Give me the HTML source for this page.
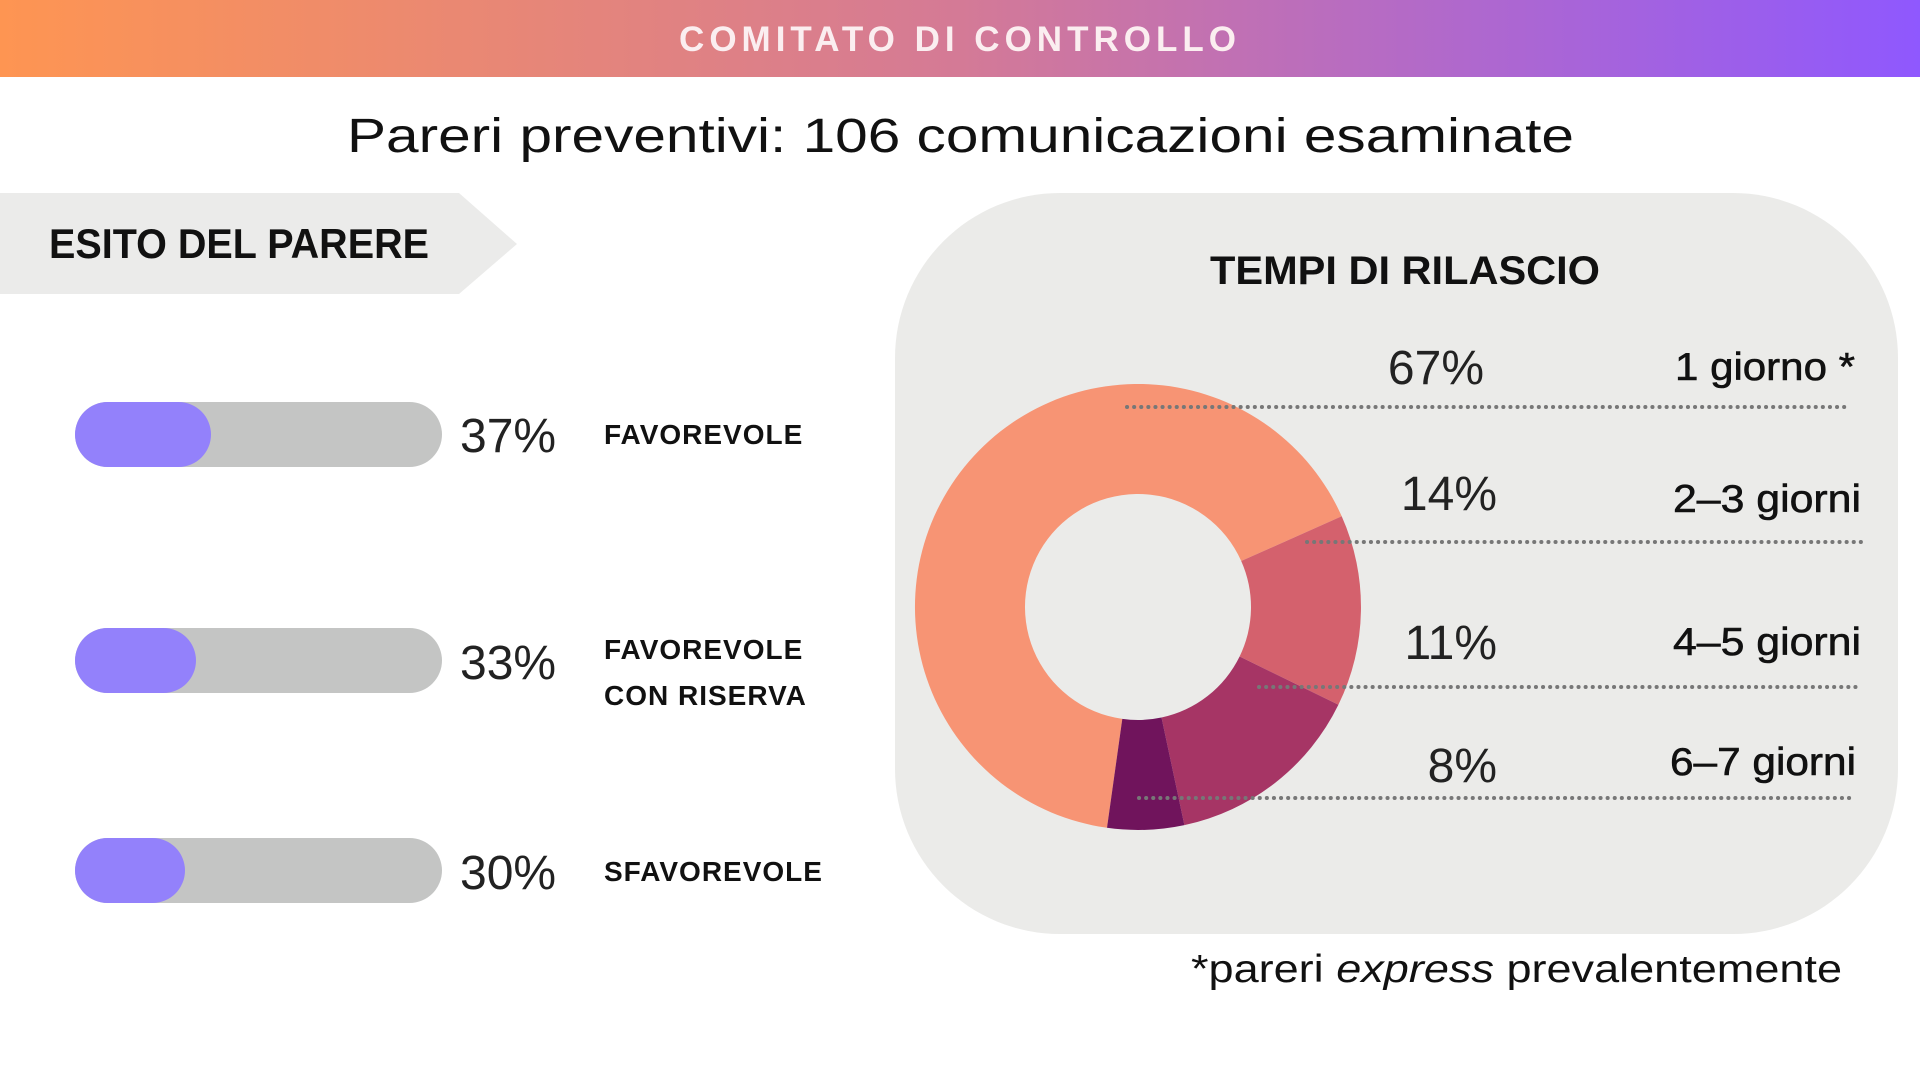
<!DOCTYPE html>
<html><head><meta charset="utf-8"><style>
html,body{margin:0;padding:0;background:#fff;width:1920px;height:1080px;overflow:hidden}
svg text{font-family:"Liberation Sans",sans-serif}
</style></head><body>
<svg id="s" width="1920" height="1080" viewBox="0 0 1920 1080" xmlns="http://www.w3.org/2000/svg">
<defs><linearGradient id="g" x1="0" x2="1" y1="0" y2="0"><stop offset="0" stop-color="#fe9552"/><stop offset="0.5" stop-color="#d47a96"/><stop offset="1" stop-color="#8f58fe"/></linearGradient></defs>
<rect x="0" y="0" width="1920" height="77" fill="url(#g)"/>
<text x="960" y="51" text-anchor="middle" font-size="35" font-weight="bold" fill="#fbeef0" letter-spacing="5">COMITATO DI CONTROLLO</text>
<text x="347" y="152" font-size="48" fill="#111" textLength="1227" lengthAdjust="spacingAndGlyphs">Pareri preventivi: 106 comunicazioni esaminate</text>
<polygon points="0,193 459,193 517,244 459,294 0,294" fill="#ebebea"/>
<text x="49" y="258" font-size="42" font-weight="bold" fill="#111" textLength="380" lengthAdjust="spacingAndGlyphs">ESITO DEL PARERE</text>
<g>
<rect x="75" y="402" width="367" height="65" rx="32.5" fill="#c4c5c4"/>
<rect x="75" y="402" width="136" height="65" rx="32.5" fill="#9381fb"/>
<rect x="75" y="628" width="367" height="65" rx="32.5" fill="#c4c5c4"/>
<rect x="75" y="628" width="121" height="65" rx="32.5" fill="#9381fb"/>
<rect x="75" y="838" width="367" height="65" rx="32.5" fill="#c4c5c4"/>
<rect x="75" y="838" width="110" height="65" rx="32.5" fill="#9381fb"/>
</g>
<g font-size="48" fill="#222" font-weight="300">
<text x="460" y="452">37%</text><text x="460" y="679">33%</text><text x="460" y="889">30%</text>
</g>
<g font-size="28" font-weight="bold" fill="#111" letter-spacing="1">
<text x="604" y="444">FAVOREVOLE</text>
<text x="604" y="659">FAVOREVOLE</text>
<text x="604" y="705">CON RISERVA</text>
<text x="604" y="881">SFAVOREVOLE</text>
</g>
<rect x="895" y="193" width="1003" height="741" rx="165" fill="#ebebe9"/>
<text x="1210" y="284" font-size="40" font-weight="bold" fill="#111" textLength="390" lengthAdjust="spacingAndGlyphs">TEMPI DI RILASCIO</text>
<g id="donut"></g>
<g stroke="#777" stroke-width="4" stroke-dasharray="0.1 7" stroke-linecap="round">
<line x1="1127" y1="407" x2="1851" y2="407"/>
<line x1="1307" y1="542" x2="1861" y2="542"/>
<line x1="1259" y1="687" x2="1861" y2="687"/>
<line x1="1139" y1="798" x2="1851" y2="798"/>
</g>
<g font-size="48" fill="#222" font-weight="300" text-anchor="end">
<text x="1484" y="384">67%</text><text x="1497" y="510">14%</text><text x="1497" y="659">11%</text><text x="1497" y="782">8%</text>
</g>
<g font-size="39" fill="#111" stroke="#111" stroke-width="0.6" lengthAdjust="spacingAndGlyphs">
<text x="1675" y="380" textLength="180" lengthAdjust="spacingAndGlyphs">1 giorno *</text>
<text x="1673" y="512" textLength="188" lengthAdjust="spacingAndGlyphs">2–3 giorni</text>
<text x="1673" y="655" textLength="188" lengthAdjust="spacingAndGlyphs">4–5 giorni</text>
<text x="1670" y="775" textLength="186" lengthAdjust="spacingAndGlyphs">6–7 giorni</text>
</g>
<text x="1191" y="982" font-size="39" fill="#111" textLength="651" lengthAdjust="spacingAndGlyphs">*pareri <tspan font-style="italic">express</tspan> prevalentemente</text>
</svg>
<script>
var cx=1138,cy=607,R=223,r=113;
function p(a,rad){a=a*Math.PI/180;return (cx+rad*Math.sin(a)).toFixed(1)+","+(cy-rad*Math.cos(a)).toFixed(1);}
var segs=[[188,426,"#f79474"],[66,116,"#d4616d"],[116,168,"#a63565"],[168,188,"#70145c"]];
var h="";
segs.forEach(function(s){var a=s[0],b=s[1],l=(b-a)>180?1:0;
h+='<path fill="'+s[2]+'" d="M'+p(a,R)+' A'+R+','+R+' 0 '+l+' 1 '+p(b,R)+' L'+p(b,r)+' A'+r+','+r+' 0 '+l+' 0 '+p(a,r)+' Z"/>';});
document.getElementById("donut").innerHTML=h;
</script>
</body></html>
